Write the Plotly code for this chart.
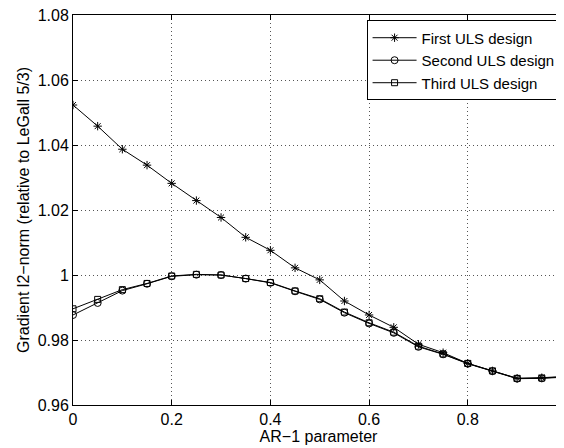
import plotly.graph_objects as go

ar = [0, 0.05, 0.1, 0.15, 0.2, 0.25, 0.3, 0.35, 0.4, 0.45, 0.5,
      0.55, 0.6, 0.65, 0.7, 0.75, 0.8, 0.85, 0.9, 0.95, 1.0]
first = [1.0523, 1.0458, 1.0387, 1.0338, 1.0282, 1.0229, 1.0177, 1.0116, 1.0076, 1.0022, 0.9985,
         0.9920, 0.9877, 0.9839, 0.9787, 0.9761, 0.9728, 0.9705, 0.9682, 0.9684, 0.9688]
second = [0.9877, 0.9914, 0.9952, 0.9973, 0.9996, 1.0001, 1.0000, 0.9989, 0.9976, 0.9950, 0.9925,
          0.9884, 0.9851, 0.9822, 0.9779, 0.9756, 0.9727, 0.9704, 0.9681, 0.9682, 0.9686]
third = [0.9896, 0.9925, 0.9955, 0.9974, 0.9997, 1.0002, 1.0000, 0.9989, 0.9977, 0.9951, 0.9927,
         0.9886, 0.9853, 0.9824, 0.9781, 0.9757, 0.9728, 0.9705, 0.9682, 0.9683, 0.9687]
names = ["First ULS design", "Second ULS design", "Third ULS design"]
symbols = ["asterisk-open", "circle-open", "square-open"]
sizes = [7, 7, 6]

fig = go.Figure()
for ys, nm, sym, sz in zip([first, second, third], names, symbols, sizes):
    fig.add_trace(go.Scatter(
        x=ar, y=ys, name=nm, mode="lines+markers",
        line=dict(color="black", width=1),
        marker=dict(symbol=sym, size=sz, color="black", line=dict(color="black", width=1)),
    ))

font = dict(family="Liberation Sans, Arial, Helvetica, sans-serif", size=16, color="black")
# the page body has an 8px margin, so the figure is sized / offset to compensate
fig.update_layout(
    width=556, height=440,
    margin=dict(l=65, r=0, t=7, b=43, autoexpand=False),
    paper_bgcolor="white", plot_bgcolor="white",
    font=font,
    showlegend=True,
    legend=dict(x=0.993, y=0.986, xanchor="right", yanchor="top",
                bgcolor="white", bordercolor="black", borderwidth=1,
                font=dict(size=15), tracegroupgap=0, itemwidth=44),
)
grid_dash = "1px,3px"
fig.update_xaxes(
    range=[0, 0.995], tickmode="array", tickvals=[0, 0.2, 0.4, 0.6, 0.8],
    ticktext=["0", "0.2", "0.4", "0.6", "0.8"],
    showline=True, linecolor="black", linewidth=1, mirror="ticks",
    ticks="inside", ticklen=5, tickcolor="black",
    showgrid=True, gridcolor="#555555", griddash=grid_dash, gridwidth=1,
    zeroline=False, automargin=False, ticklabeloverflow="allow",
    title=dict(text="AR\u22121 parameter", standoff=0, font=dict(size=16)),
)
fig.update_yaxes(
    range=[0.96, 1.08], tickmode="array",
    tickvals=[0.96, 0.98, 1.0, 1.02, 1.04, 1.06, 1.08],
    ticktext=["0.96", "0.98", "1", "1.02", "1.04", "1.06", "1.08"],
    showline=True, linecolor="black", linewidth=1,
    ticks="inside", ticklen=5, tickcolor="black",
    showgrid=True, gridcolor="#555555", griddash=grid_dash, gridwidth=1,
    zeroline=False, automargin=False, ticklabeloverflow="allow",
    title=dict(text="Gradient l2\u2212norm (relative to LeGall 5/3)", standoff=4, font=dict(size=16)),
)
fig.write_html("out.html")
